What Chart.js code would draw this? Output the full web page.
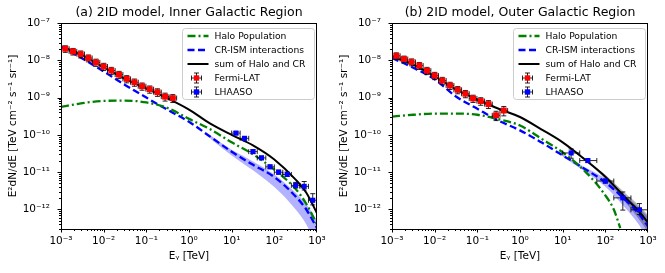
<!DOCTYPE html>
<html>
<head>
<meta charset="utf-8">
<script src="https://cdn.jsdelivr.net/npm/chart.js@4.4.1/dist/chart.umd.min.js"></script>
<style>
    html, body { margin: 0; padding: 0; background: #fff; }
    #wrap { position: relative; width: 665px; height: 273px; overflow: hidden; }
    canvas { position: absolute; top: 0; }
</style>
</head>
<body>
<div id="wrap">
    <canvas id="inner" width="332" height="273" style="left:0px"></canvas>
    <canvas id="outer" width="332" height="273" style="left:331px"></canvas>
</div>
<script>
const panelTitles = ['(a) 2ID model, Inner Galactic Region', '(b) 2ID model, Outer Galactic Region'];
const legendLabels = ['Halo Population', 'CR-ISM interactions', 'sum of Halo and CR', 'Fermi-LAT', 'LHAASO'];

const xTickValues = [1e-3, 1e-2, 1e-1, 1, 10, 100, 1000];
const xTickLabels = ['10⁻³', '10⁻²', '10⁻¹', '10⁰', '10¹', '10²', '10³'];
const yTickValues = [1e-12, 1e-11, 1e-10, 1e-9, 1e-8, 1e-7];
const yTickLabels = ['10⁻¹²', '10⁻¹¹', '10⁻¹⁰', '10⁻⁹', '10⁻⁸', '10⁻⁷'];

// Fermi-LAT bins (same energies in both regions)
const fermiE = [1.26e-3, 1.91e-3, 2.88e-3, 4.37e-3, 6.61e-3, 1.0e-2, 1.51e-2, 2.29e-2, 3.47e-2, 5.25e-2, 7.94e-2, 0.120, 0.182, 0.275, 0.417];
const fermiElo = [1.02e-3, 1.55e-3, 2.34e-3, 3.55e-3, 5.37e-3, 8.13e-3, 1.23e-2, 1.86e-2, 2.82e-2, 4.27e-2, 6.46e-2, 9.77e-2, 0.148, 0.224, 0.339];
const fermiEhi = [1.55e-3, 2.34e-3, 3.55e-3, 5.37e-3, 8.13e-3, 1.23e-2, 1.86e-2, 2.82e-2, 4.27e-2, 6.46e-2, 9.77e-2, 0.148, 0.224, 0.339, 0.513];

const innerFermiF = [2.04e-8, 1.73e-8, 1.47e-8, 1.15e-8, 8.8e-9, 6.8e-9, 5.3e-9, 4.14e-9, 3.18e-9, 2.58e-9, 2.02e-9, 1.68e-9, 1.4e-9, 1.06e-9, 9.7e-10];
const innerFermiErr = [0.2, 0.2, 0.21, 0.21, 0.22, 0.22, 0.22, 0.22, 0.22, 0.22, 0.22, 0.22, 0.23, 0.24, 0.24];
const outerFermiF = [1.32e-8, 1.08e-8, 9.0e-9, 7.2e-9, 5.3e-9, 3.89e-9, 2.86e-9, 2.11e-9, 1.62e-9, 1.27e-9, 9.5e-10, 8.07e-10, 6.7e-10, 3.36e-10, 4.5e-10];
const outerFermiErr = [0.2, 0.2, 0.21, 0.21, 0.22, 0.22, 0.22, 0.22, 0.22, 0.22, 0.22, 0.23, 0.24, 0.28, 0.28];

const innerLhaasoE = [12.6, 20.0, 31.6, 50.1, 79.4, 126, 200, 316, 501, 794];
const innerLhaasoElo = [10.0, 15.8, 25.1, 39.8, 63.1, 100, 158, 251, 398, 631];
const innerLhaasoEhi = [15.8, 25.1, 39.8, 63.1, 100, 158, 251, 398, 631, 1000];
const innerLhaasoF = [1.12e-10, 8.1e-11, 3.56e-11, 2.42e-11, 1.39e-11, 1.0e-11, 8.7e-12, 4.43e-12, 4.17e-12, 1.77e-12];
const innerLhaasoErrUp = [0.1, 0.1, 0.12, 0.12, 0.12, 0.14, 0.16, 0.2, 0.35, 0.5];
const innerLhaasoErrDown = [0.1, 0.1, 0.1, 0.1, 0.1, 0.12, 0.12, 0.15, 0.2, 0.25];

const outerLhaasoE = [15.8, 38.9, 100, 257, 631];
const outerLhaasoElo = [10.0, 25.1, 63.1, 158, 398];
const outerLhaasoEhi = [25.1, 63.1, 158, 398, 1000];
const outerLhaasoF = [3.28e-11, 2.05e-11, 5.8e-12, 2.05e-12, 9.8e-13];
const outerLhaasoErrUp = [0.28, 0.1, 0.13, 0.44, 0.47];
const outerLhaasoErrDown = [0.28, 0.1, 0.12, 0.53, 0.25];

// model curves
const modelE = [1e-3, 3.16e-3, 1e-2, 3.16e-2, 0.1, 0.316, 1, 3.16, 10, 31.6, 100, 316, 562, 1000];
const innerHalo = [5.62e-10, 7.08e-10, 8.13e-10, 8.32e-10, 7.41e-10, 5.25e-10, 2.69e-10, 1.41e-10, 6.31e-11, 3.02e-11, 1.17e-11, 3.55e-12, 1.41e-12, 3.98e-13];
const innerCR = [2.34e-8, 1.12e-8, 5.01e-9, 2.19e-9, 1.0e-9, 4.68e-10, 2.24e-10, 8.91e-11, 3.55e-11, 1.58e-11, 7.41e-12, 2.24e-12, 1.0e-12, 3.16e-13];
const innerSum = [2.4e-8, 1.35e-8, 6.46e-9, 3.16e-9, 1.74e-9, 9.55e-10, 4.79e-10, 2.0e-10, 1.0e-10, 5.25e-11, 2.19e-11, 6.31e-12, 2.82e-12, 7.94e-13];
const innerBandE = [3.16, 10, 31.6, 100, 316, 562, 1000];
const innerBandHi = [9.77e-11, 3.98e-11, 1.95e-11, 8.7e-12, 2.82e-12, 1.41e-12, 5.01e-13];
const innerBandLo = [7.94e-11, 2.82e-11, 1.12e-11, 3.98e-12, 1.0e-12, 3.98e-13, 1.0e-13];

const outerHaloE = [1e-3, 3.16e-3, 1e-2, 3.16e-2, 0.1, 0.316, 1, 3.16, 10, 31.6, 100, 158, 224];
const outerHalo = [3.09e-10, 3.47e-10, 3.72e-10, 3.72e-10, 3.47e-10, 2.63e-10, 1.78e-10, 7.94e-11, 3.39e-11, 1.12e-11, 2.4e-12, 1.0e-12, 3.16e-13];
const outerCR = [1.15e-8, 6.31e-9, 3.09e-9, 1.07e-9, 5.01e-10, 2.4e-10, 1.32e-10, 6.31e-11, 2.82e-11, 1.26e-11, 5.37e-12, 1.66e-12, 8.51e-13, 3.55e-13];
const outerSum = [1.26e-8, 7.59e-9, 3.72e-9, 1.66e-9, 8.91e-10, 5.01e-10, 3.02e-10, 1.41e-10, 6.31e-11, 2.29e-11, 7.59e-12, 1.91e-12, 1.0e-12, 4.47e-13];
const outerBandE = [10, 31.6, 100, 316, 562, 1000];
const outerBandHi = [3.0e-11, 1.41e-11, 6.76e-12, 2.19e-12, 1.23e-12, 6.31e-13];
const outerBandLo = [2.63e-11, 1.07e-11, 4.07e-12, 1.0e-12, 4.47e-13, 1.58e-13];
const outerSumBandE = [31.6, 100, 316, 562, 1000];
const outerSumBandHi = [2.4e-11, 8.51e-12, 2.51e-12, 1.41e-12, 7.08e-13];
const outerSumBandLo = [2.19e-11, 6.46e-12, 1.41e-12, 6.31e-13, 2.51e-13];

const FONT = "'DejaVu Sans', sans-serif";
const GREEN = '#008000';
const BLUE = '#0000ff';
const RED = '#ff0000';
const HALO_DASH = [8, 3, 2, 3];
const CR_DASH = [7, 3.5];

Chart.defaults.color = '#000';
Chart.defaults.font.family = FONT;

function pts(xs, ys) {
    return xs.map((x, i) => ({ x: x, y: ys[i] }));
}

// matplotlib-style error bars with caps, drawn just below each marker set
const errorBarPlugin = {
    id: 'errorBars',
    beforeDatasetDraw(chart, args) {
        const ds = chart.data.datasets[args.index];
        if (!ds.errorBars) return;
        const { ctx, chartArea: a, scales } = chart;
        const eb = ds.errorBars;
        ctx.save();
        ctx.beginPath();
        ctx.rect(a.left, a.top, a.right - a.left, a.bottom - a.top);
        ctx.clip();
        ctx.strokeStyle = 'rgba(0,0,0,0.85)';
        ctx.lineWidth = 1;
        const c = 2.5;
        ds.data.forEach((p, i) => {
            const px = scales.x.getPixelForValue(p.x);
            const py = scales.y.getPixelForValue(p.y);
            const x0 = scales.x.getPixelForValue(eb.xlo[i]);
            const x1 = scales.x.getPixelForValue(eb.xhi[i]);
            const y0 = scales.y.getPixelForValue(p.y * (1 - eb.down[i]));
            const y1 = scales.y.getPixelForValue(p.y * (1 + eb.up[i]));
            ctx.beginPath();
            ctx.moveTo(x0, py); ctx.lineTo(x1, py);
            ctx.moveTo(px, y0); ctx.lineTo(px, y1);
            ctx.moveTo(x0, py - c); ctx.lineTo(x0, py + c);
            ctx.moveTo(x1, py - c); ctx.lineTo(x1, py + c);
            ctx.moveTo(px - c, y0); ctx.lineTo(px + c, y0);
            ctx.moveTo(px - c, y1); ctx.lineTo(px + c, y1);
            ctx.stroke();
        });
        ctx.restore();
    }
};

// axes box plus outward major/minor log ticks
const framePlugin = {
    id: 'frame',
    afterDatasetsDraw(chart) {
        const { ctx, chartArea: a, scales: { x, y } } = chart;
        ctx.save();
        ctx.strokeStyle = '#000';
        ctx.lineWidth = 1;
        ctx.strokeRect(Math.round(a.left) + 0.5, Math.round(a.top) + 0.5,
            Math.round(a.right - a.left) - 1, Math.round(a.bottom - a.top));
        ctx.beginPath();
        for (let d = -3; d < 3; d++) {
            for (let m = 1; m <= 9; m++) {
                const px = Math.round(x.getPixelForValue(m * Math.pow(10, d))) + 0.5;
                const len = m === 1 ? 3.5 : 2;
                ctx.moveTo(px, a.bottom); ctx.lineTo(px, a.bottom + len);
            }
        }
        const pr = Math.round(x.getPixelForValue(1e3)) - 0.5;
        ctx.moveTo(pr, a.bottom); ctx.lineTo(pr, a.bottom + 3.5);
        for (let d = -13; d < -7; d++) {
            for (let m = 1; m <= 9; m++) {
                const v = m * Math.pow(10, d);
                if (v < y.min || v > y.max) continue;
                const py = Math.round(y.getPixelForValue(v)) + 0.5;
                const len = m === 1 ? 3.5 : 2;
                ctx.moveTo(a.left, py); ctx.lineTo(a.left - len, py);
            }
        }
        const pt = Math.round(y.getPixelForValue(1e-7)) + 0.5;
        ctx.moveTo(a.left, pt); ctx.lineTo(a.left - 3.5, pt);
        ctx.stroke();
        ctx.restore();
    }
};

function drawErrHandle(ctx, cx, cy, color) {
    ctx.strokeStyle = 'rgba(0,0,0,0.85)';
    ctx.lineWidth = 1;
    ctx.beginPath();
    ctx.moveTo(cx - 5, cy); ctx.lineTo(cx + 5, cy);
    ctx.moveTo(cx, cy - 5); ctx.lineTo(cx, cy + 5);
    ctx.moveTo(cx - 5, cy - 2.5); ctx.lineTo(cx - 5, cy + 2.5);
    ctx.moveTo(cx + 5, cy - 2.5); ctx.lineTo(cx + 5, cy + 2.5);
    ctx.moveTo(cx - 2.5, cy - 5); ctx.lineTo(cx + 2.5, cy - 5);
    ctx.moveTo(cx - 2.5, cy + 5); ctx.lineTo(cx + 2.5, cy + 5);
    ctx.stroke();
    ctx.fillStyle = color;
    ctx.fillRect(cx - 2.7, cy - 2.7, 5.4, 5.4);
}

const legendPlugin = {
    id: 'boxLegend',
    afterDraw(chart) {
        const { ctx, chartArea: a } = chart;
        const x0 = Math.round(a.right) - 134.5, y0 = Math.round(a.top) + 5.5, w = 132, h = 71;
        ctx.save();
        ctx.beginPath();
        ctx.roundRect(x0, y0, w, h, 3);
        ctx.fillStyle = 'rgba(255,255,255,0.8)';
        ctx.fill();
        ctx.strokeStyle = '#cccccc';
        ctx.lineWidth = 1;
        ctx.stroke();

        const styles = [
            { color: GREEN, dash: HALO_DASH, width: 2.3 },
            { color: BLUE, dash: CR_DASH, width: 2.3 },
            { color: '#000', dash: [], width: 2 }
        ];
        ctx.font = '9.2px ' + FONT;
        ctx.textBaseline = 'middle';
        legendLabels.forEach((label, i) => {
            const cy = y0 + 7.5 + i * 14;
            if (i < 3) {
                ctx.strokeStyle = styles[i].color;
                ctx.lineWidth = styles[i].width;
                ctx.setLineDash(styles[i].dash);
                ctx.beginPath();
                ctx.moveTo(x0 + 5, cy); ctx.lineTo(x0 + 26, cy);
                ctx.stroke();
                ctx.setLineDash([]);
            } else {
                drawErrHandle(ctx, x0 + 14, cy, i === 3 ? RED : BLUE);
            }
            ctx.fillStyle = '#000';
            ctx.fillText(label, x0 + 32, cy + 0.5);
        });
        ctx.restore();
    }
};

function pointSet(label, xs, ys, color, radius, eb) {
    return {
        label: label,
        data: pts(xs, ys),
        showLine: false,
        pointStyle: 'rect',
        pointRadius: radius,
        pointBackgroundColor: color,
        pointBorderColor: color,
        pointBorderWidth: 0,
        errorBars: eb
    };
}

function curve(label, xs, ys, color, width, dash) {
    return {
        label: label,
        data: pts(xs, ys),
        borderColor: color,
        borderWidth: width,
        borderDash: dash,
        pointRadius: 0,
        fill: false,
        cubicInterpolationMode: 'monotone'
    };
}

function band(xs, hi, lo, color) {
    return [
        { label: 'band', data: pts(xs, hi), borderWidth: 0, pointRadius: 0, fill: '+1', backgroundColor: color, cubicInterpolationMode: 'monotone' },
        { label: 'band', data: pts(xs, lo), borderWidth: 0, pointRadius: 0, fill: false, cubicInterpolationMode: 'monotone' }
    ];
}

function makeChart(id, title, datasets) {
    return new Chart(document.getElementById(id), {
        type: 'line',
        data: { datasets: datasets },
        options: {
            responsive: false,
            animation: false,
            events: [],
            devicePixelRatio: 1,
            layout: { padding: { right: 15 } },
            scales: {
                x: {
                    type: 'logarithmic',
                    min: 1e-3,
                    max: 1e3,
                    afterBuildTicks: s => { s.ticks = xTickValues.map(v => ({ value: v })); },
                    afterFit: s => { s.height = 44; },
                    grid: { display: false, drawTicks: false },
                    border: { display: false },
                    ticks: {
                        autoSkip: false,
                        maxRotation: 0,
                        padding: 6,
                        font: { family: FONT, size: 10.5 },
                        callback: (v, i) => xTickLabels[i]
                    },
                    title: {
                        display: true,
                        text: 'Eᵧ [TeV]',
                        font: { family: FONT, size: 10.5 },
                        padding: { top: 0, bottom: 10 }
                    }
                },
                y: {
                    type: 'logarithmic',
                    min: 3.3e-13,
                    max: 1e-7,
                    afterBuildTicks: s => { s.ticks = yTickValues.map(v => ({ value: v })); },
                    afterFit: s => { s.width = 61; },
                    grid: { display: false, drawTicks: false },
                    border: { display: false },
                    ticks: {
                        autoSkip: false,
                        padding: 11,
                        font: { family: FONT, size: 10.5 },
                        callback: (v, i) => yTickLabels[i]
                    },
                    title: {
                        display: true,
                        text: 'E²dN/dE [TeV cm⁻² s⁻¹ sr⁻¹]',
                        font: { family: FONT, size: 10.5 },
                        padding: { top: 7, bottom: 0 }
                    }
                }
            },
            plugins: {
                legend: { display: false },
                tooltip: { enabled: false },
                title: {
                    display: true,
                    text: title,
                    fullSize: false,
                    font: { family: FONT, size: 12.5, weight: 'normal' },
                    padding: { top: 5, bottom: 3 }
                }
            }
        },
        plugins: [errorBarPlugin, framePlugin, legendPlugin]
    });
}

makeChart('inner', panelTitles[0], [
    pointSet('Fermi-LAT', fermiE, innerFermiF, RED, 4.2,
        { xlo: fermiElo, xhi: fermiEhi, up: innerFermiErr, down: innerFermiErr }),
    pointSet('LHAASO', innerLhaasoE, innerLhaasoF, BLUE, 3.6,
        { xlo: innerLhaasoElo, xhi: innerLhaasoEhi, up: innerLhaasoErrUp, down: innerLhaasoErrDown }),
    curve('Halo Population', modelE, innerHalo, GREEN, 2.3, HALO_DASH),
    curve('CR-ISM interactions', modelE, innerCR, BLUE, 2.3, CR_DASH),
    curve('sum of Halo and CR', modelE, innerSum, '#000', 2, []),
    ...band(innerBandE, innerBandHi, innerBandLo, 'rgba(0,0,255,0.3)')
]);

makeChart('outer', panelTitles[1], [
    pointSet('Fermi-LAT', fermiE, outerFermiF, RED, 4.2,
        { xlo: fermiElo, xhi: fermiEhi, up: outerFermiErr, down: outerFermiErr }),
    pointSet('LHAASO', outerLhaasoE, outerLhaasoF, BLUE, 3.6,
        { xlo: outerLhaasoElo, xhi: outerLhaasoEhi, up: outerLhaasoErrUp, down: outerLhaasoErrDown }),
    curve('Halo Population', outerHaloE, outerHalo, GREEN, 2.3, HALO_DASH),
    curve('CR-ISM interactions', modelE, outerCR, BLUE, 2.3, CR_DASH),
    curve('sum of Halo and CR', modelE, outerSum, '#000', 2, []),
    ...band(outerSumBandE, outerSumBandHi, outerSumBandLo, 'rgba(0,0,0,0.3)'),
    ...band(outerBandE, outerBandHi, outerBandLo, 'rgba(0,0,255,0.3)')
]);
</script>
</body>
</html>
